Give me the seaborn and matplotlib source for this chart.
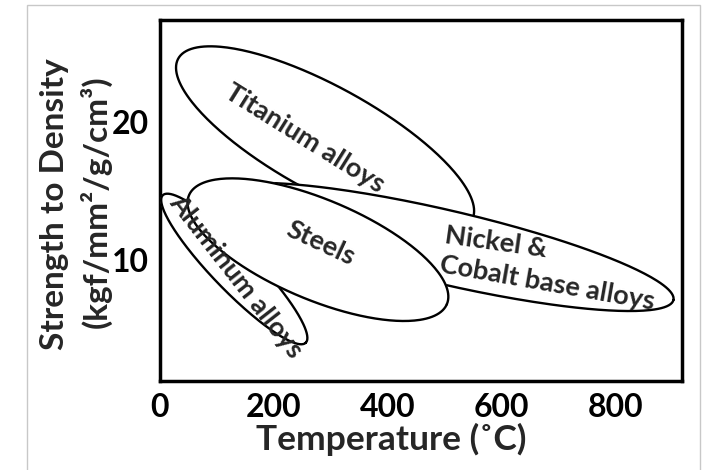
"""Strength-to-density vs temperature map for alloy families."""
import numpy as np
import matplotlib
matplotlib.use("Agg")
import matplotlib.pyplot as plt
from matplotlib.patches import Rectangle
import seaborn as sns

# alloy regions: two ends of the long axis of each ellipse (temperature, strength)
alloys = ["Titanium alloys", "Aluminum alloys", "Nickel & Cobalt", "Steels"]
temp_lo = [32, 5, 98, 51]
strength_lo = [24.6, 14.7, 14.8, 14.7]
temp_hi = [548, 256, 902, 504]
strength_hi = [12.9, 4.0, 7.1, 6.8]
width_ratio = [0.315, 0.21, 0.157, 0.357]

# region labels
label_text = ["Titanium alloys", "Aluminum alloys", "Nickel &", "Cobalt base alloys", "Steels"]
label_temp = [255, 133, 590, 680, 282]
label_strength = [18.8, 8.8, 11.3, 8.3, 11.2]
label_angle = [-32, -52, -8, -10, -25]

x_ticks = [0, 200, 400, 600, 800]
x_tick_labels = ["0", "200", "400", "600", "800"]
y_ticks = [5, 10, 15, 20]
y_tick_labels = ["", "10", "", "20"]

sns.set_style("white")
plt.rcParams["font.family"] = ["Lato", "DejaVu Sans"]
plt.rcParams["font.weight"] = "bold"

fig = plt.figure(figsize=(7.07, 4.70), dpi=100)
ax = fig.add_axes([0.2263, 0.1894, 0.7383, 0.768])
ax.set_xlim(0, 917)
ax.set_ylim(1.23, 27.4)


def outline(p0, p1, ratio, n=300):
    # build the ellipse in screen space so the shape is not squashed by the axis scales
    p = ax.transData.transform([p0, p1])
    c = p.mean(axis=0)
    d = (p[1] - p[0]) / 2
    a = np.hypot(*d)
    u = d / a
    v = np.array([-u[1], u[0]])
    t = np.linspace(0, 2 * np.pi, n)
    pts = c + np.outer(a * np.cos(t), u) + np.outer(ratio * a * np.sin(t), v)
    return ax.transData.inverted().transform(pts)


for i, name in enumerate(alloys):
    pts = outline((temp_lo[i], strength_lo[i]), (temp_hi[i], strength_hi[i]), width_ratio[i])
    ax.fill(pts[:, 0], pts[:, 1], color="white", zorder=2 + 2 * i)
    sns.lineplot(x=pts[:, 0], y=pts[:, 1], sort=False, estimator=None,
                 color="black", linewidth=1.7, ax=ax, zorder=3 + 2 * i)

for t, x, y, r in zip(label_text, label_temp, label_strength, label_angle):
    ax.text(x, y, t, rotation=r, ha="center", va="center", fontsize=19.5,
            fontweight="bold", rotation_mode="anchor", zorder=20)

ax.set_xticks(x_ticks)
ax.set_xticklabels(x_tick_labels, fontsize=23, fontweight="bold")
ax.set_yticks(y_ticks)
ax.set_yticklabels(y_tick_labels, fontsize=23, fontweight="bold")
ax.tick_params(direction="in", length=17, width=2, pad=8, colors="black")
ax.tick_params(axis="x", pad=9)
for s in ax.spines.values():
    s.set_linewidth(2.5)
    s.set_color("black")

fig.text(0.553, 0.064, "Temperature (\u02daC)", ha="center", va="center",
         fontsize=25.5, fontweight="bold")
fig.text(0.077, 0.565, "Strength to Density", rotation=90, ha="center", va="center",
         fontsize=24, fontweight="bold")
fig.text(0.135, 0.57, "(kgf/mm\u00b2/g/cm\u00b3)", rotation=90, ha="center", va="center",
         fontsize=24, fontweight="bold")

# thin grey frame around the picture
fig.add_artist(Rectangle((0.038, -0.05), 0.952, 1.039, transform=fig.transFigure,
                         fill=False, edgecolor="#c8c8c8", linewidth=1))

fig.savefig("out.png", dpi=100)
